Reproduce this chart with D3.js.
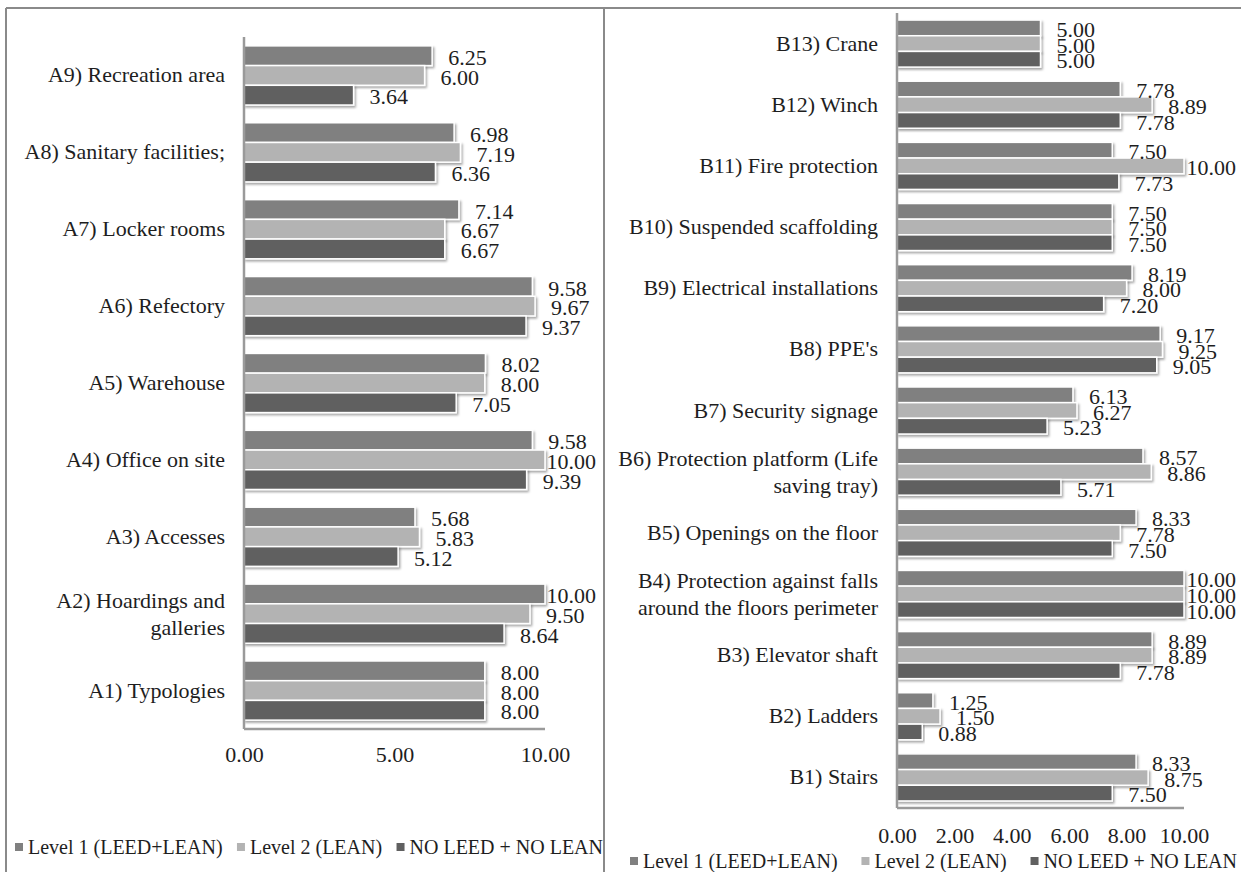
<!DOCTYPE html>
<html>
<head>
<meta charset="utf-8">
<script src="https://cdn.jsdelivr.net/npm/d3@7"></script>
<style>
  html, body { margin: 0; padding: 0; background: #fff; }
  svg text { font-family: "Liberation Serif", "Times New Roman", serif; fill: #1e1e1e; }
</style>
</head>
<body>
<svg id="chart" width="1241" height="872"></svg>
<script>
// Series shared by both panels
const seriesNames = ["Level 1 (LEED+LEAN)", "Level 2 (LEAN)", "NO LEED + NO LEAN"];
const seriesColors = ["#808080", "#b3b3b3", "#606060"];

// Panel A: site facilities
const catsA = ["A1) Typologies", "A2) Hoardings and\ngalleries", "A3) Accesses", "A4) Office on site",
  "A5) Warehouse", "A6) Refectory", "A7) Locker rooms", "A8) Sanitary facilities;", "A9) Recreation area"];
const level1A = [8.00, 10.00, 5.68, 9.58, 8.02, 9.58, 7.14, 6.98, 6.25];
const level2A = [8.00, 9.50, 5.83, 10.00, 8.00, 9.67, 6.67, 7.19, 6.00];
const noLeedA = [8.00, 8.64, 5.12, 9.39, 7.05, 9.37, 6.67, 6.36, 3.64];
const ticksA = [0, 5, 10];

// Panel B: collective protection and equipment
const catsB = ["B1) Stairs", "B2) Ladders", "B3) Elevator shaft",
  "B4) Protection against falls\naround the floors perimeter", "B5) Openings on the floor",
  "B6) Protection platform (Life\nsaving tray)", "B7) Security signage", "B8) PPE's",
  "B9) Electrical installations", "B10) Suspended scaffolding", "B11) Fire protection",
  "B12) Winch", "B13) Crane"];
const level1B = [8.33, 1.25, 8.89, 10.00, 8.33, 8.57, 6.13, 9.17, 8.19, 7.50, 7.50, 7.78, 5.00];
const level2B = [8.75, 1.50, 8.89, 10.00, 7.78, 8.86, 6.27, 9.25, 8.00, 7.50, 10.00, 8.89, 5.00];
const noLeedB = [7.50, 0.88, 7.78, 10.00, 7.50, 5.71, 5.23, 9.05, 7.20, 7.50, 7.73, 7.78, 5.00];
const ticksB = [0, 2, 4, 6, 8, 10];

const svg = d3.select("#chart");
const FONT = 22;
const LEGEND_FONT = 20;

// soft drop shadow used on bars
const defs = svg.append("defs");
const f = defs.append("filter").attr("id", "shadow")
  .attr("x", "-5%").attr("y", "-20%").attr("width", "115%").attr("height", "160%");
f.append("feDropShadow").attr("dx", 1.5).attr("dy", 2).attr("stdDeviation", 1.3)
  .attr("flood-color", "#000").attr("flood-opacity", 0.35);

// panel frames
const frame = svg.append("g").attr("fill", "none").attr("stroke", "#8a8a8a").attr("stroke-width", 2);
frame.append("line").attr("x1", 6).attr("x2", 1241).attr("y1", 8).attr("y2", 8);
frame.append("line").attr("x1", 6).attr("x2", 6).attr("y1", 8).attr("y2", 872);
frame.append("line").attr("x1", 604).attr("x2", 604).attr("y1", 8).attr("y2", 872);

function drawPanel(cfg) {
  const g = svg.append("g");
  const rows = cfg.cats.map((c, i) => ({ cat: c, vals: [cfg.s1[i], cfg.s2[i], cfg.s3[i]] }));

  const x = d3.scaleLinear().domain([0, 10]).range([cfg.x0, cfg.x1]);
  // first category sits at the bottom
  const y = d3.scaleBand().domain(cfg.cats.slice().reverse()).range([cfg.y0, cfg.y1])
    .paddingInner(0.3 / 1.3).paddingOuter(0.15 / 1.3);
  const ys = d3.scaleBand().domain([0, 1, 2]).range([0, y.bandwidth()]);

  // bars
  const groups = g.append("g").selectAll("g").data(rows).join("g")
    .attr("transform", d => `translate(0,${y(d.cat)})`);
  groups.selectAll("rect").data(d => d.vals).join("rect")
    .attr("x", x(0))
    .attr("y", (v, j) => ys(j))
    .attr("width", v => x(v) - x(0))
    .attr("height", ys.bandwidth())
    .attr("fill", (v, j) => seriesColors[j])
    .attr("stroke", "#fff").attr("stroke-width", 1.5)
    .attr("filter", "url(#shadow)");

  // value labels, kept inside the chart area on the right
  groups.selectAll("text").data(d => d.vals).join("text")
    .attr("y", (v, j) => ys(j) + ys.bandwidth() / 2 + 1.5)
    .attr("dy", "0.35em")
    .style("font-size", FONT + "px")
    .text(v => d3.format(".2f")(v))
    .attr("x", function (v) {
      const w = this.getComputedTextLength();
      return Math.min(x(v) + 16, cfg.labelLimit - w);
    });

  // category axis
  const yAxis = g.append("g").attr("transform", `translate(${cfg.x0},0)`)
    .call(d3.axisLeft(y).tickSize(0).tickPadding(cfg.catPad));
  yAxis.select(".domain").attr("stroke", "#9a9a9a").attr("stroke-width", 2.5)
    .attr("d", `M0,${cfg.y0}V${cfg.y1}`);
  yAxis.selectAll(".tick text").style("font-size", FONT + "px").attr("fill", "#1e1e1e")
    .each(function (d) {
      const t = d3.select(this);
      const lines = d.split("\n");
      if (lines.length > 1) {
        t.text(null).attr("dy", null);
        lines.forEach((ln, k) => {
          t.append("tspan").attr("x", -cfg.catPad)
            .attr("dy", k === 0 ? `${0.35 - 0.6 * (lines.length - 1)}em` : "1.2em")
            .text(ln);
        });
      }
    });

  // value axis
  const xAxis = g.append("g").attr("transform", `translate(0,${cfg.y1})`)
    .call(d3.axisBottom(x).tickValues(cfg.ticks).tickFormat(d3.format(".2f"))
      .tickSize(0).tickPadding(cfg.tickPad));
  xAxis.select(".domain").attr("stroke", "#9a9a9a").attr("stroke-width", 2.5)
    .attr("d", `M${cfg.x0},0H${cfg.x1}`);
  xAxis.selectAll(".tick text").style("font-size", FONT + "px").attr("fill", "#1e1e1e");

  // legend spread across the panel
  const lg = g.append("g").attr("transform", `translate(0,${cfg.legendY})`);
  const items = lg.selectAll("g").data(seriesNames).join("g");
  items.append("rect").attr("width", 8).attr("height", 8).attr("y", -4)
    .attr("fill", (d, j) => seriesColors[j]);
  items.append("text").attr("x", 13).attr("dy", "0.35em")
    .style("font-size", LEGEND_FONT + "px").text(d => d);
  const widths = [];
  items.select("text").each(function () { widths.push(13 + this.getComputedTextLength()); });
  const total = d3.sum(widths);
  const gap = (cfg.legendX1 - cfg.legendX0 - total) / (widths.length - 1);
  let cx = cfg.legendX0;
  items.attr("transform", (d, j) => {
    const t = `translate(${cx},0)`;
    cx += widths[j] + gap;
    return t;
  });
}

drawPanel({
  cats: catsA, s1: level1A, s2: level2A, s3: noLeedA, ticks: ticksA,
  x0: 244, x1: 545, y0: 37, y1: 729, catPad: 19, tickPad: 17, labelLimit: 596,
  legendY: 847, legendX0: 15, legendX1: 603
});

drawPanel({
  cats: catsB, s1: level1B, s2: level2B, s3: noLeedB, ticks: ticksB,
  x0: 897, x1: 1184, y0: 13, y1: 808, catPad: 19, tickPad: 19, labelLimit: 1236,
  legendY: 861, legendX0: 630, legendX1: 1237
});
</script>
</body>
</html>
